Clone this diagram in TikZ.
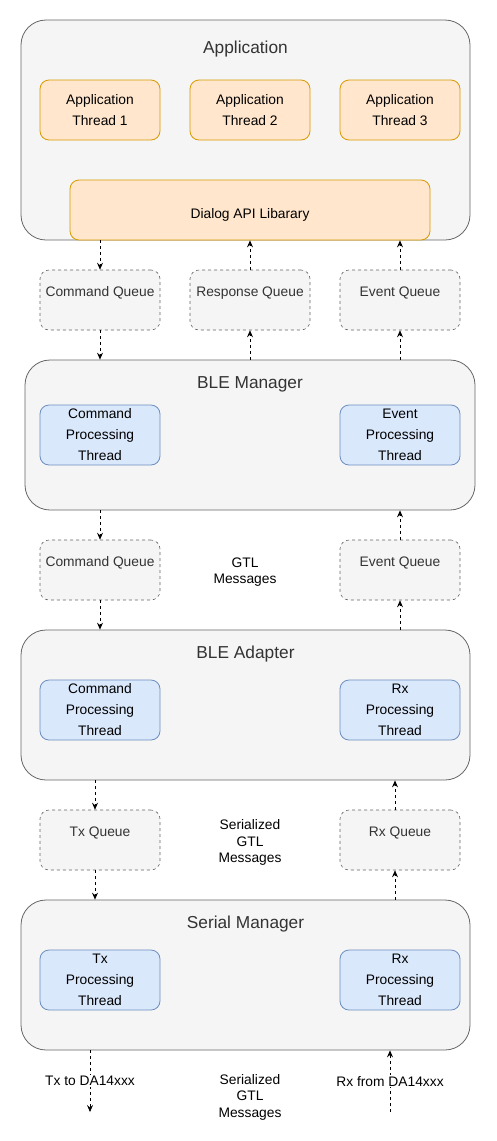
\documentclass[tikz,border=0pt]{standalone}
\usepackage{fontspec}
\setmainfont{Liberation Sans}
\usetikzlibrary{arrows.meta,positioning}
\definecolor{boxgray}{HTML}{F5F5F5}
\definecolor{linegray}{HTML}{666666}
\definecolor{txtgray}{HTML}{333333}
\definecolor{orfill}{HTML}{FFE6CC}
\definecolor{ordraw}{HTML}{D79B00}
\definecolor{blfill}{HTML}{DAE8FC}
\definecolor{bldraw}{HTML}{6C8EBF}

\begin{document}
\begin{tikzpicture}[x=1pt,y=-1pt,
  layer/.style={draw=linegray, fill=boxgray, rounded corners=25pt, line width=0.8pt},
  title/.style={text=txtgray, font=\fontsize{17.3}{20}\selectfont},
  apptask/.style={draw=ordraw, fill=orfill, rounded corners=9pt, line width=0.8pt,
    minimum width=120pt, minimum height=60pt, align=center, font=\fontsize{13.8}{21}\selectfont,
    execute at begin node=\rule{0pt}{19pt}},
  proctask/.style={draw=bldraw, fill=blfill, rounded corners=9pt, line width=0.8pt,
    minimum width=120pt, minimum height=60pt, align=center, font=\fontsize{13.8}{21}\selectfont,
    execute at begin node=\rule{0pt}{19pt}},
  queue/.style={draw=linegray, fill=boxgray, dashed, rounded corners=9pt, line width=0.6pt,
    minimum width=120pt, minimum height=60pt, text=txtgray, text height=10pt, text depth=18pt,
    font=\fontsize{13.8}{16}\selectfont},
  msg/.style={align=center, font=\fontsize{13.8}{16.5}\selectfont},
  flow/.style={-{Stealth[length=7pt,width=6pt,inset=2.5pt]}, dashed, line width=0.7pt}]
\useasboundingbox (0,0) rectangle (496,1141);

% Application
\draw[layer] (21,20) rectangle (470,240);
\node[title] (apptitle) at (245.5,49) {Application};
\node[apptask] (at1) at (100,110) {Application\\Thread 1};
\node[apptask] (at2) at (250,110) {Application\\Thread 2};
\node[apptask] (at3) at (400,110) {Application\\Thread 3};
\node[apptask, minimum width=360pt, execute at begin node={}] (api) at (250,210) {Dialog API Libarary};

\node[queue] (cq1) at (100,300) {Command Queue};
\node[queue] (rq1) at (250,300) {Response Queue};
\node[queue] (eq1) at (400,300) {Event Queue};

% BLE Manager
\node[layer, minimum width=450pt, minimum height=150pt] (blem) at (250,435) {};
\node[title] (blemtitle) at (250,384) {BLE Manager};
\node[proctask] (cpt1) at (100,435) {Command\\Processing\\Thread};
\node[proctask] (ept1) at (400,435) {Event\\Processing\\Thread};

\node[queue] (cq2) at (100,570) {Command Queue};
\node[msg] (gtl) at (245,572) {GTL\\Messages};
\node[queue] (eq2) at (400,570) {Event Queue};

% BLE Adapter
\node[layer, minimum width=449pt, minimum height=150pt] (blea) at (245.5,705) {};
\node[title] (bleatitle) at (245.5,654) {BLE Adapter};
\node[proctask] (cpt2) at (100,710) {Command\\Processing\\Thread};
\node[proctask] (rxt1) at (400,710) {Rx\\Processing\\Thread};

\node[queue] (txq) at (100,840) {Tx Queue};
\node[msg] (sgtl1) at (250,842.5) {Serialized\\GTL\\Messages};
\node[queue] (rxq) at (400,840) {Rx Queue};

% Serial Manager
\node[layer, minimum width=449pt, minimum height=150pt] (serm) at (245.5,975) {};
\node[title] (sermtitle) at (245.5,924) {Serial Manager};
\node[proctask] (txt) at (100,980) {Tx\\Processing\\Thread};
\node[proctask] (rxt2) at (400,980) {Rx\\Processing\\Thread};

\node[msg] (sgtl2) at (250,1097) {Serialized\\GTL\\Messages};

\coordinate (txx) at (95,0);
\coordinate (rxx) at (395,0);
\coordinate (txend) at (90,1112);
\coordinate (rxstart) at (390,1112);

\draw[flow] (api.south -| cq1) -- (cq1.north);
\draw[flow] (cq1.south) -- (cq1.south |- blem.north);
\draw[flow] (rq1.north) -- (rq1.north |- api.south);
\draw[flow] (blem.north -| rq1) -- (rq1.south);
\draw[flow] (eq1.north) -- (eq1.north |- api.south);
\draw[flow] (blem.north -| eq1) -- (eq1.south);

\draw[flow] (blem.south -| cq2) -- (cq2.north);
\draw[flow] (cq2.south) -- (cq2.south |- blea.north);
\draw[flow] (eq2.north) -- (eq2.north |- blem.south);
\draw[flow] (blea.north -| eq2) -- (eq2.south);

\draw[flow] (blea.south -| txx) -- (txq.north -| txx);
\draw[flow] (txq.south -| txx) -- (serm.north -| txx);
\draw[flow] (rxq.north -| rxx) -- (blea.south -| rxx);
\draw[flow] (serm.north -| rxx) -- (rxq.south -| rxx);

\draw[flow] (serm.south -| txend) -- node[msg, fill=white, inner sep=1pt] (txlbl) {Tx to DA14xxx} (txend);
\draw[flow] (rxstart) -- node[msg, fill=white, inner sep=1pt] (rxlbl) {Rx from DA14xxx} (serm.south -| rxstart);
\end{tikzpicture}
\end{document}
